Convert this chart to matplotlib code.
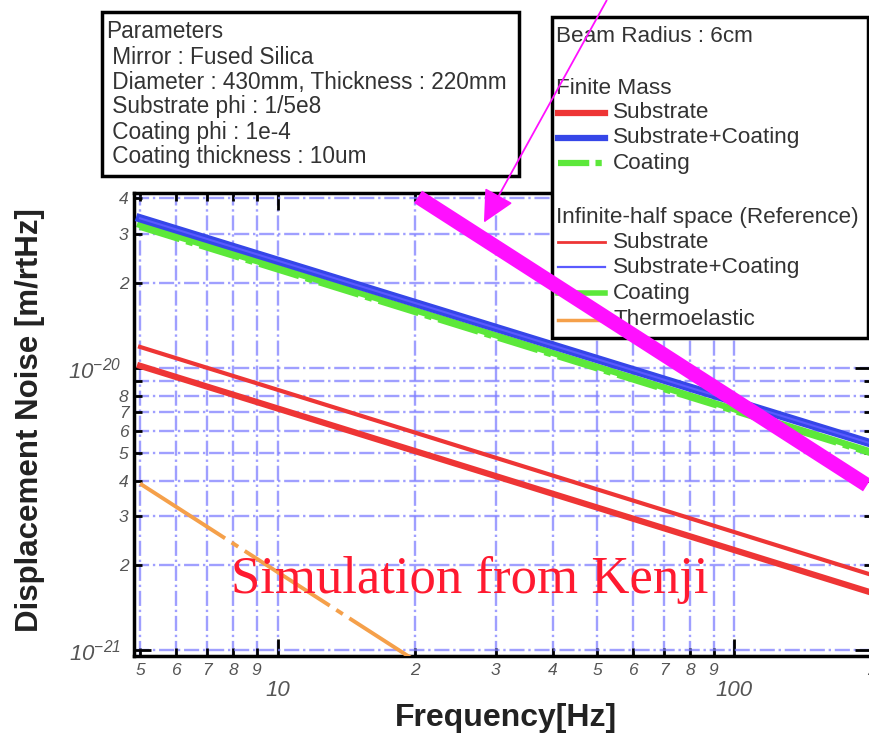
import numpy as np
import matplotlib
matplotlib.use('Agg')
import matplotlib.pyplot as plt
from matplotlib.lines import Line2D
from matplotlib.patches import Rectangle

plt.rcParams['font.family'] = ['Liberation Sans', 'DejaVu Sans']
plt.rcParams['mathtext.fontset'] = 'custom'
plt.rcParams['mathtext.rm'] = 'Liberation Sans:italic'
plt.rcParams['mathtext.it'] = 'Liberation Sans:italic'

# 端点データ（両対数で直線）
freq = [5, 200]
finite_substrate = [1.02e-20, 1.60e-21]
finite_total = [3.40e-20, 5.40e-21]
finite_coating = [3.18e-20, 5.00e-21]
ref_substrate = [1.19e-20, 1.85e-21]
ref_total = [3.40e-20, 5.40e-21]
ref_coating = [3.22e-20, 5.05e-21]
thermo_freq = [5, 20]
thermoelastic = [3.9e-21, 9.2e-22]

# 目安線 (f^-1)
guide_freq = [20.3, 195]
guide_val = [4.05e-20, 3.85e-21]
arrow_tip = (28.1, 3.22e-20)

params = ['Parameters',
          ' Mirror : Fused Silica',
          ' Diameter : 430mm, Thickness : 220mm',
          ' Substrate phi : 1/5e8',
          ' Coating phi : 1e-4',
          ' Coating thickness : 10um']

x_minor = [5, 6, 7, 8, 9, 20, 30, 40, 50, 60, 70, 80, 90, 200]
x_minor_lab = ['5', '6', '7', '8', '9', '2', '3', '4', '5', '6', '7', '8', '9', '2']
y_minor = [2e-21, 3e-21, 4e-21, 5e-21, 6e-21, 7e-21, 8e-21, 9e-21, 2e-20, 3e-20, 4e-20]
y_minor_lab = ['2', '3', '4', '5', '6', '7', '8', '', '2', '3', '4']

RED = '#ee3535'
BLUE = '#3546e8'
GREEN = '#5ce83a'
ORANGE = '#f5a04a'
MAG = '#ff10ff'
GRAY = '#555555'

W, H = 870, 736
def fx(px):
    return px / W
def fy(py):
    return 1 - py / H

fig = plt.figure(figsize=(8.7, 7.36), dpi=100)
ax = fig.add_axes([fx(134), fy(656), fx(872) - fx(134), fy(193) - fy(656)])
ax.set_xscale('log')
ax.set_yscale('log')
ax.set_xlim(4.85, 200)
ax.set_ylim(0.955e-21, 4.18e-20)

ax.grid(True, which='both', color='#7f7fff', linestyle='-.', linewidth=1.7, alpha=0.75)
ax.set_axisbelow(True)

ax.plot(freq, ref_coating, color=GREEN, lw=4.5, zorder=2)
ax.plot(freq, finite_coating, color=GREEN, lw=5, linestyle=(0, (6, 1, 1, 1)), zorder=2)
ax.plot(freq, finite_total, color=BLUE, lw=6, zorder=3)
ax.plot(freq, ref_total, color='#5a5aff', lw=1.5, zorder=3)
ax.plot(freq, finite_substrate, color=RED, lw=4.5, zorder=3)
ax.plot(freq, ref_substrate, color=RED, lw=3, zorder=3)
ax.plot(thermo_freq, thermoelastic, color=ORANGE, lw=2.8,
        linestyle=(0, (26, 2, 2, 2)), zorder=3)

# 軸目盛
ax.set_xticks([10, 100])
ax.set_xticklabels(['10', '100'])
ax.set_xticks(x_minor, minor=True)
ax.set_xticklabels(x_minor_lab, minor=True)
ax.set_yticks([1e-21, 1e-20])
ax.set_yticklabels([r'$10^{-21}$', r'$10^{-20}$'])
ax.set_yticks(y_minor, minor=True)
ax.set_yticklabels(y_minor_lab, minor=True)

ax.tick_params(which='both', direction='in', top=True, right=True, colors='black',
               labelcolor=GRAY, width=2)
ax.tick_params(which='major', length=12)
ax.tick_params(which='minor', length=6)
ax.tick_params(axis='x', which='major', pad=17, labelsize=16)
ax.tick_params(axis='x', which='minor', pad=5, labelsize=12.5)
ax.tick_params(axis='y', which='major', pad=9, labelsize=16)
ax.tick_params(axis='y', which='minor', pad=4, labelsize=12.5)
for lab in ax.get_xticklabels(which='both') + ax.get_yticklabels(which='minor'):
    lab.set_fontstyle('italic')
for sp in ax.spines.values():
    sp.set_linewidth(2.5)

fig.text(fx(30), fy(420), 'Displacement Noise [m/rtHz]', rotation=90,
         ha='center', va='center', fontsize=22.5, fontweight='bold', color='#222222')
fig.text(fx(506), fy(718), 'Frequency[Hz]', ha='center', va='center',
         fontsize=23, fontweight='bold', color='#222222')

# パラメータ表示
ax.add_patch(Rectangle((fx(102), fy(176)), fx(519) - fx(102), fy(12) - fy(176),
                       transform=fig.transFigure, clip_on=False, facecolor='white',
                       edgecolor='black', lw=2.5, zorder=5))
for i, s in enumerate(params):
    ax.text(fx(106), fy(32 + 25 * i), s, transform=fig.transFigure, fontsize=16.3,
            color='#333333', va='center', ha='left', zorder=6)

# 凡例
ax.add_patch(Rectangle((fx(552), fy(338)), fx(868) - fx(552), fy(17) - fy(338),
                       transform=fig.transFigure, clip_on=False, facecolor='white',
                       edgecolor='black', lw=2.5, zorder=5))
heads = [('Beam Radius : 6cm', 37), ('Finite Mass', 88),
         ('Infinite-half space (Reference)', 217)]
for s, py in heads:
    ax.text(fx(556), fy(py), s, transform=fig.transFigure, fontsize=16.2,
            color='#333333', va='center', ha='left', zorder=6)
entries = [('Substrate', RED, 4.5, '-', 113),
           ('Substrate+Coating', BLUE, 4.5, '-', 138),
           ('Coating', GREEN, 4.5, (0, (5, 1, 1, 1, 1, 1)), 163),
           ('Substrate', RED, 2.0, '-', 242),
           ('Substrate+Coating', '#5a5aff', 1.6, '-', 267),
           ('Coating', GREEN, 4.0, '-', 293),
           ('Thermoelastic', ORANGE, 2.5, '-', 320)]
for s, c, lw, ls, py in entries:
    ax.add_line(Line2D([fx(558), fx(605)], [fy(py), fy(py)], transform=fig.transFigure,
                       color=c, lw=lw, linestyle=ls, clip_on=False, zorder=6))
    ax.text(fx(613), fy(py), s, transform=fig.transFigure, fontsize=16.2,
            color='#333333', va='center', ha='left', zorder=6)

# マゼンタの線と矢印
ax.plot(guide_freq, guide_val, color=MAG, lw=10.5, solid_capstyle='butt',
        clip_on=False, zorder=10)
ax.annotate('', xy=arrow_tip, xycoords='data', xytext=(fx(608), fy(-2)),
            textcoords='figure fraction',
            arrowprops=dict(arrowstyle='-|>,head_length=1.0,head_width=0.5',
                            color=MAG, lw=1.3, mutation_scale=20),
            annotation_clip=False, zorder=10)

ax.text(fx(231), fy(593), 'Simulation from Kenji', transform=fig.transFigure,
        fontsize=38, family='Liberation Serif', color='#ff1a30', va='baseline',
        ha='left', zorder=7)

fig.savefig('out.png', dpi=100)
